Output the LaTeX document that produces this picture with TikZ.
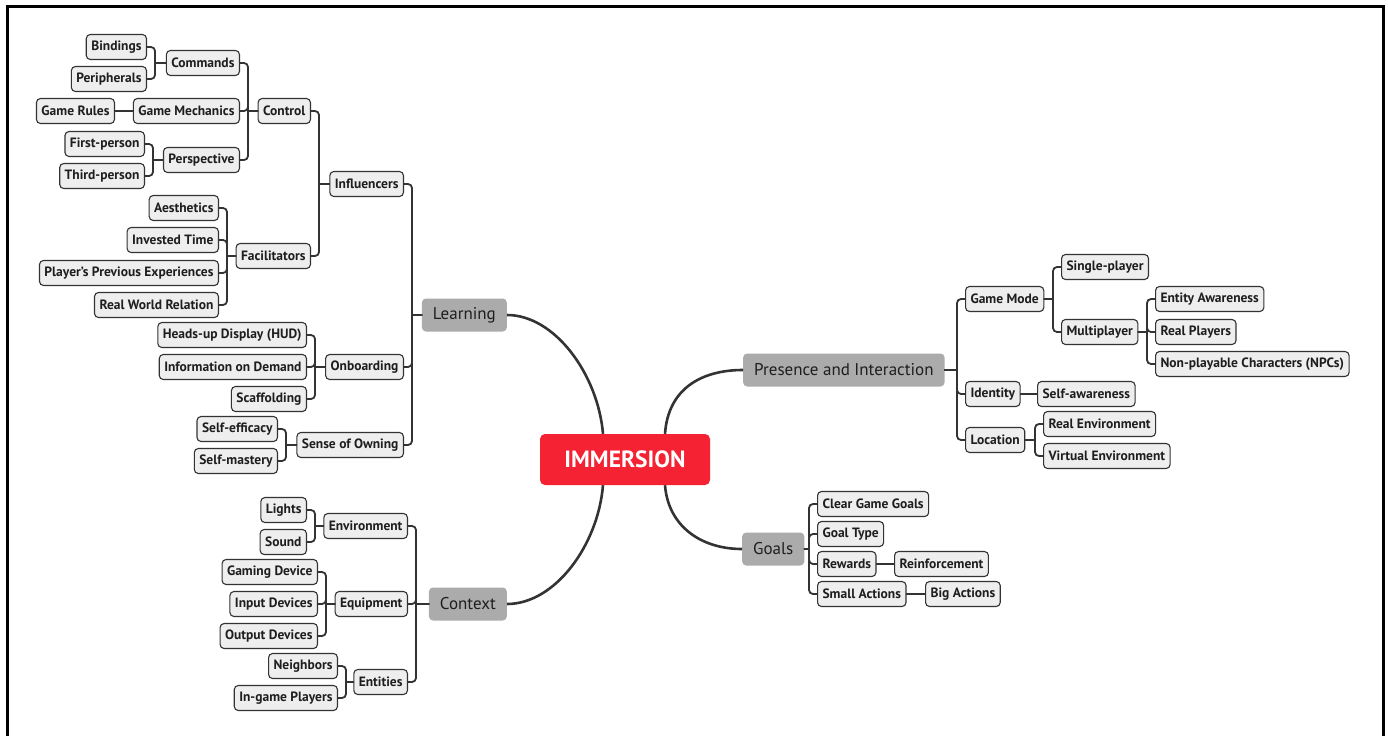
\documentclass[tikz,border=0pt]{standalone}
\usepackage{fontspec}
\setmainfont{PT Sans}
\usepackage{xcolor}
\usepackage{tikz}
\definecolor{Ink}{HTML}{333333}
\definecolor{Coal}{HTML}{1E1E1E}
\definecolor{Crimson}{HTML}{F42232}
\definecolor{Ash}{HTML}{ABABAB}
\definecolor{Mist}{HTML}{EEEEEE}
\tikzset{
  root/.style={fill=Crimson,text=white,rounded corners=5pt,minimum width=170pt,minimum height=51pt,font=\bfseries\fontsize{23.5}{28}\selectfont},
  topic/.style={fill=Ash,text=Coal,rounded corners=4pt,minimum height=33pt,inner xsep=11pt,inner ysep=0pt,font=\fontsize{17}{20}\selectfont},
  sub/.style={draw=Ink,fill=Mist,text=Coal,line width=1.1pt,rounded corners=4pt,minimum height=25pt,inner xsep=5pt,inner ysep=0pt,font=\bfseries\fontsize{13.5}{16}\selectfont},
  lsub/.style={sub,anchor=east},
  rsub/.style={sub,anchor=west},
  branch/.style={draw=Ink,line width=1.8pt,rounded corners=4pt,line cap=round},
  stem/.style={draw=Ink,line width=2.6pt},
  frame/.style={draw=black,line width=3pt}
}
\begin{document}
\begin{tikzpicture}[x=1pt,y=-1pt]
  \useasboundingbox (0,0) rectangle (1388,736);
  \draw[frame] (7,736) -- (7,6) -- (1383,6) -- (1383,736);

  \node[root] (imm) at (625,459.5) {IMMERSION};
  \node[topic,anchor=east] (learn) at (507,315) {Learning};
  \node[topic,anchor=east] (context) at (507,604) {Context};
  \node[topic,anchor=west] (presence) at (743,370) {Presence and Interaction};
  \node[topic,anchor=west] (goals) at (742,549) {Goals};

  \draw[stem] (learn.east) .. controls +(48,0) and +(-5,-59) .. ([xshift=-22pt]imm.north);
  \draw[stem] ([xshift=40pt]imm.north) .. controls +(3,-44) and +(-43,0) .. (presence.west);
  \draw[stem] ([xshift=-22pt]imm.south) .. controls +(-5,60) and +(48,0) .. (context.east);
  \draw[stem] ([xshift=40pt]imm.south) .. controls +(3,40) and +(-42,0) .. (goals.west);

  \node[lsub] (bind) at (147,47) {Bindings};
  \node[lsub] (peri) at (147,79) {Peripherals};
  \node[lsub] (cmd) at (240,63) {Commands};
  \node[lsub] (rules) at (115,111) {Game Rules};
  \node[lsub] (mech) at (240,111) {Game Mechanics};
  \node[lsub] (ctrl) at (311,111) {Control};
  \node[lsub] (first) at (145,144) {First-person};
  \node[lsub] (third) at (145,176) {Third-person};
  \node[lsub] (persp) at (240,160) {Perspective};
  \node[lsub] (infl) at (404,184) {Influencers};
  \node[lsub] (aest) at (219,208) {Aesthetics};
  \node[lsub] (time) at (219,240) {Invested Time};
  \node[lsub] (prev) at (219,273) {Player's Previous Experiences};
  \node[lsub] (world) at (219,305) {Real World Relation};
  \node[lsub] (facil) at (311,256) {Facilitators};
  \node[lsub] (hud) at (307,335) {Heads-up Display (HUD)};
  \node[lsub] (info) at (307,367) {Information on Demand};
  \node[lsub] (scaf) at (307,399) {Scaffolding};
  \node[lsub] (onb) at (404,367) {Onboarding};
  \node[lsub] (eff) at (278,429) {Self-efficacy};
  \node[lsub] (mast) at (278,461) {Self-mastery};
  \node[lsub] (own) at (404,445) {Sense of Owning};

  \node[lsub] (lights) at (307,510) {Lights};
  \node[lsub] (sound) at (307,542) {Sound};
  \node[lsub] (env) at (408,526) {Environment};
  \node[lsub] (gdev) at (318,572) {Gaming Device};
  \node[lsub] (idev) at (318,604) {Input Devices};
  \node[lsub] (odev) at (318,636) {Output Devices};
  \node[lsub] (equip) at (408,604) {Equipment};
  \node[lsub] (neigh) at (338,666) {Neighbors};
  \node[lsub] (ingame) at (338,698) {In-game Players};
  \node[lsub] (ent) at (408,682) {Entities};

  \node[rsub] (mode) at (965,299) {Game Mode};
  \node[rsub] (single) at (1061,267) {Single-player};
  \node[rsub] (multi) at (1061,332) {Multiplayer};
  \node[rsub] (aware) at (1155,299) {Entity Awareness};
  \node[rsub] (rplay) at (1155,332) {Real Players};
  \node[rsub] (npc) at (1155,364) {Non-playable Characters (NPCs)};
  \node[rsub] (ident) at (965,394) {Identity};
  \node[rsub] (selfaw) at (1037,394) {Self-awareness};
  \node[rsub] (loc) at (965,440) {Location};
  \node[rsub] (renv) at (1043,424) {Real Environment};
  \node[rsub] (venv) at (1043,456) {Virtual Environment};

  \node[rsub] (clear) at (817,504) {Clear Game Goals};
  \node[rsub] (gtype) at (817,534) {Goal Type};
  \node[rsub] (rew) at (817,564) {Rewards};
  \node[rsub] (reinf) at (894,564) {Reinforcement};
  \node[rsub] (small) at (817,594) {Small Actions};
  \node[rsub] (big) at (925,594) {Big Actions};

  \foreach \c/\p in {bind/cmd,peri/cmd,first/persp,third/persp,
      cmd/ctrl,mech/ctrl,persp/ctrl,aest/facil,time/facil,prev/facil,world/facil,
      ctrl/infl,facil/infl,hud/onb,info/onb,scaf/onb,eff/own,mast/own,
      infl/learn,onb/learn,own/learn,
      lights/env,sound/env,gdev/equip,idev/equip,odev/equip,neigh/ent,ingame/ent,
      env/context,equip/context,ent/context}
    {\draw[branch] (\c.east) -| ([xshift=8pt]\c.east |- \p.west) edge (\p.west);}
  \foreach \c/\p in {mode/presence,ident/presence,loc/presence,single/mode,multi/mode,
      aware/multi,rplay/multi,npc/multi,renv/loc,venv/loc,
      clear/goals,gtype/goals,rew/goals,small/goals}
    {\draw[branch] (\c.west) -| ([xshift=-8pt]\c.west |- \p.east) edge (\p.east);}
  \draw[branch] (rules.east) -- (mech.west);
  \draw[branch] (ident.east) -- (selfaw.west);
  \draw[branch] (rew.east) -- (reinf.west);
  \draw[branch] (small.east) -- (big.west);
\end{tikzpicture}
\end{document}
